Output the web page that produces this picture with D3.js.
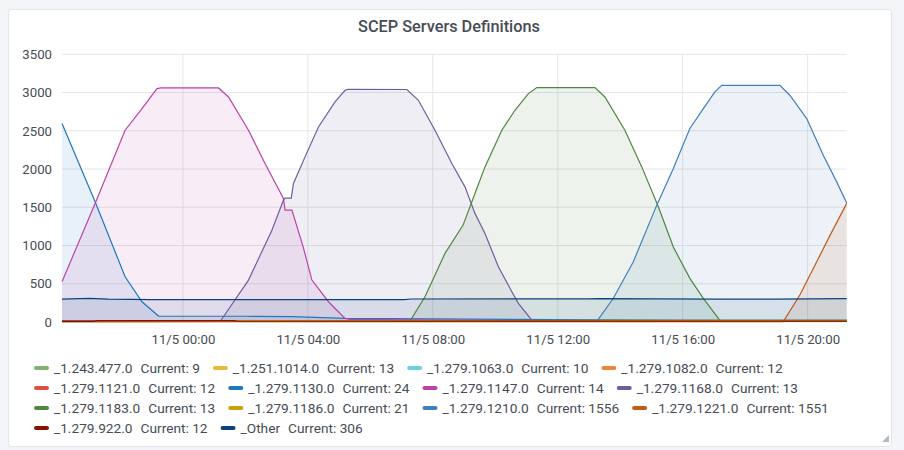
<!DOCTYPE html>
<meta charset="utf-8">
<title>SCEP Servers Definitions</title>
<style>
body {
  margin: 0;
  background: #f4f5f8;
  font-family: Roboto, sans-serif;
}
svg {
  display: block;
}
.tick text {
  fill: #464c54;
  font-size: 13.2px;
  font-family: Roboto, sans-serif;
}
.grid line {
  stroke: #e6e6e6;
}
</style>
<body>
<script src="https://cdnjs.cloudflare.com/ajax/libs/d3/7.8.5/d3.min.js"></script>
<script>
// hours are relative to 11/5 00:00
var names = ["_1.243.477.0", "_1.251.1014.0", "_1.279.1063.0", "_1.279.1082.0",
  "_1.279.1121.0", "_1.279.1130.0", "_1.279.1147.0", "_1.279.1168.0",
  "_1.279.1183.0", "_1.279.1186.0", "_1.279.1210.0", "_1.279.1221.0",
  "_1.279.922.0", "_Other"];
var current = [9, 13, 10, 12, 12, 24, 14, 13, 13, 21, 1556, 1551, 12, 306];
var colors = ["#7EB26D", "#EAB839", "#6ED0E0", "#EF843C", "#E24D42", "#1F78C1",
  "#BA43A9", "#705DA0", "#508642", "#CCA300", "#447EBC", "#C15C17", "#890F02", "#0A437C"];

var s243477 = [[-3.87, 8], [4, 9], [12, 9], [21.25, 9]];
var s2511014 = [[-3.87, 10], [6, 12], [14, 13], [21.25, 13]];
var s1063 = [[-3.87, 9], [8, 10], [21.25, 10]];
var s1082 = [[-3.87, 10], [10, 12], [21.25, 12]];
var s1121 = [[-3.87, 18], [-2.85, 18], [-2.75, 11], [10, 12], [21.25, 12]];
var s1130 = [[-3.87, 2595], [-2.81, 1571], [-1.85, 592], [-1.31, 265], [-0.78, 78],
  [2, 75], [3.5, 70], [5.2, 48], [8, 40], [12, 30], [16, 26], [21.25, 24]];
var s1147 = [[-3.87, 526], [-2.81, 1550], [-1.85, 2507], [-1.31, 2790], [-0.83, 3052],
  [-0.7, 3060], [1.14, 3060], [1.46, 2942], [2.10, 2507], [2.63, 2072], [3.22, 1615],
  [3.27, 1463], [3.49, 1463], [3.85, 983], [4.13, 548], [4.66, 265], [5.19, 48],
  [5.35, 35], [11, 16], [15.2, 14], [21.25, 14]];
var s1168 = [[-3.87, 8], [1.2, 10], [2.10, 548], [2.85, 1201], [3.22, 1593], [3.27, 1620],
  [3.47, 1620], [3.54, 1811], [3.91, 2159], [4.34, 2550], [4.87, 2877], [5.19, 3030],
  [5.29, 3042], [7.17, 3040], [7.54, 2899], [8.07, 2507], [8.61, 2072], [9.03, 1767],
  [9.35, 1420], [9.67, 1158], [10.10, 722], [10.53, 396], [10.74, 244], [11.17, 25],
  [11.3, 14], [21.25, 13]];
var s1183 = [[-3.87, 8], [7.27, 12], [7.75, 330], [8.39, 897], [8.97, 1267], [9.35, 1681],
  [9.67, 2028], [10.21, 2507], [10.63, 2768], [11.06, 2986], [11.33, 3065], [13.19, 3065],
  [13.51, 2942], [14.15, 2507], [14.69, 2028], [15.22, 1506], [15.70, 980], [16.23, 571],
  [16.66, 310], [17.19, 20], [17.3, 13], [21.25, 13]];
var s1186 = [[-3.87, 6], [1.65, 8], [1.75, 14], [8, 17], [14, 20], [21.25, 21]];
var s1210 = [[-3.87, 6], [13.25, 8], [13.78, 310], [14.42, 788], [15.17, 1528],
  [15.70, 2007], [16.23, 2530], [16.66, 2790], [17.03, 3008], [17.25, 3095],
  [19.11, 3095], [19.43, 2965], [19.97, 2660], [20.50, 2181], [20.93, 1832], [21.25, 1556]];
var s1221 = [[-3.87, 4], [19.22, 5], [19.75, 353], [20.29, 788], [20.72, 1136], [21.25, 1551]];
var s922 = [[-3.87, 8], [-2.85, 8], [-2.75, 18], [1.65, 18], [1.75, 10], [21.25, 12]];
var sOther = [[-3.87, 300], [-3.0, 309], [-2.4, 299], [-1, 292], [7.1, 293], [7.3, 301],
  [13, 302], [13.3, 305], [17, 299], [19, 300], [21.25, 306]];

var series = [s243477, s2511014, s1063, s1082, s1121, s1130, s1147, s1168,
  s1183, s1186, s1210, s1221, s922, sOther];

var yTicks = [0, 500, 1000, 1500, 2000, 2500, 3000, 3500];

var w = 904,
    h = 450,
    pLeft = 62,
    pRight = 846.7,
    pTop = 54.3,
    pBottom = 322;

var base = new Date(2020, 10, 5, 0, 0);
function toDate(hr) { return new Date(+base + hr * 3600e3); }

var x = d3.scaleTime()
    .domain([toDate(-3.87), toDate(21.25)])
    .range([pLeft, pRight]);
var y = d3.scaleLinear()
    .domain([0, 3500])
    .range([pBottom, pTop]);

var svg = d3.select("body").append("svg")
    .attr("width", w)
    .attr("height", h);

// panel
svg.append("rect")
    .attr("x", 8.5)
    .attr("y", 9.5)
    .attr("width", 883)
    .attr("height", 437)
    .attr("rx", 3)
    .attr("fill", "#fff")
    .attr("stroke", "#e1e4ea");

svg.append("text")
    .attr("x", 449)
    .attr("y", 32)
    .attr("text-anchor", "middle")
    .attr("fill", "#464c54")
    .style("font-size", "16.3px")
    .style("font-weight", 500)
    .text("SCEP Servers Definitions");

var xTicks = x.ticks(d3.timeHour.every(4));

svg.append("g").attr("class", "grid")
  .selectAll("line")
    .data(yTicks)
  .enter().append("line")
    .attr("x1", pLeft)
    .attr("x2", pRight)
    .attr("y1", function(d) { return y(d); })
    .attr("y2", function(d) { return y(d); });

svg.append("g").attr("class", "grid")
  .selectAll("line")
    .data(xTicks)
  .enter().append("line")
    .attr("x1", function(d) { return x(d); })
    .attr("x2", function(d) { return x(d); })
    .attr("y1", pTop)
    .attr("y2", pBottom);

var area = d3.area()
    .x(function(d) { return x(toDate(d[0])); })
    .y0(y(0))
    .y1(function(d) { return y(d[1]); });
var line = d3.line()
    .x(function(d) { return x(toDate(d[0])); })
    .y(function(d) { return y(d[1]); });

var g = svg.append("g");
series.forEach(function(s, i) {
  g.append("path")
      .attr("d", area(s))
      .attr("fill", colors[i])
      .attr("fill-opacity", 0.1);
});
series.forEach(function(s, i) {
  g.append("path")
      .attr("d", line(s))
      .attr("fill", "none")
      .attr("stroke", colors[i])
      .attr("stroke-width", 1.2);
});

svg.append("g")
    .attr("transform", "translate(" + pLeft + ",0)")
    .call(d3.axisLeft(y).tickValues(yTicks).tickSize(0).tickPadding(10).tickFormat(d3.format("d")))
    .call(function(a) { a.select(".domain").remove(); });

svg.append("g")
    .attr("transform", "translate(0," + pBottom + ")")
    .call(d3.axisBottom(x).tickValues(xTicks).tickSize(0).tickPadding(13)
      .tickFormat(d3.timeFormat("%-m/%-d %H:%M")))
    .call(function(a) { a.select(".domain").remove(); });

// legend, wrapped in rows
var lg = svg.append("g").style("font-size", "13.7px").attr("fill", "#464c54");
var lx = 34, ly = 368, maxX = 880;
names.forEach(function(n, i) {
  var item = lg.append("g");
  item.append("rect")
      .attr("width", 15)
      .attr("height", 4)
      .attr("rx", 2)
      .attr("y", -2)
      .attr("fill", colors[i]);
  var t1 = item.append("text")
      .attr("x", 20)
      .attr("dy", "0.35em")
      .text(n);
  var w1 = t1.node().getComputedTextLength();
  var t2 = item.append("text")
      .attr("x", 20 + w1 + 8)
      .attr("dy", "0.35em")
      .text("Current: " + current[i]);
  var iw = 20 + w1 + 8 + t2.node().getComputedTextLength();
  if (lx + iw > maxX) { lx = 34; ly += 20; }
  item.attr("transform", "translate(" + lx + "," + ly + ")");
  lx += iw + 13;
});

// resize handle
svg.append("path")
    .attr("d", "M889,435 L889,442 L882,442 Z")
    .attr("fill", "#b5b8bd");
</script>
